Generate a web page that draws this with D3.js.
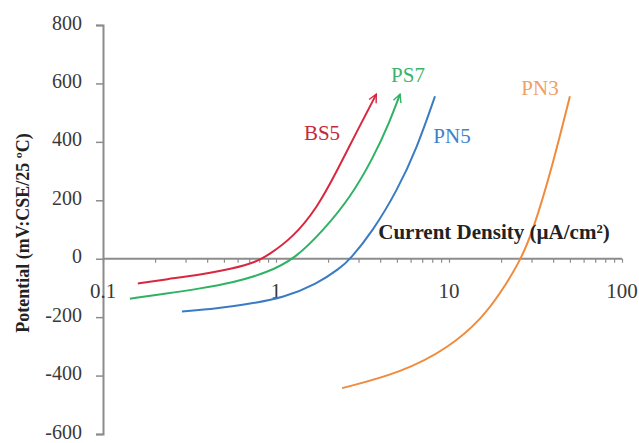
<!DOCTYPE html>
<html>
<head>
<meta charset="utf-8">
<script src="https://cdn.jsdelivr.net/npm/d3@7"></script>
<style>
  html, body { margin: 0; padding: 0; background: #fff; }
  svg { display: block; }
</style>
</head>
<body>
<svg id="chart" width="639" height="443"></svg>
<script>
// Polarization curves: current density (µA/cm², log) vs potential (mV)
const seriesNames = ["BS5", "PS7", "PN5", "PN3"];
const seriesColors = ["#d8283f", "#2fb264", "#3a7bc3", "#f08a3c"];
const labelColors = ["#c9283a", "#3bb46d", "#3c82c6", "#f1a066"];
const withArrow = [true, true, false, false];

const bs5 = [[0.159,-85],[0.234,-70],[0.364,-55],[0.564,-34],[0.776,-10],[0.9,12],[1.25,72],[1.73,174],[2.25,300],[2.94,437],[3.8,563]];
const ps7 = [[0.143,-137],[0.234,-119],[0.364,-102],[0.564,-82],[0.887,-48],[1.29,0],[1.87,96],[2.68,208],[3.64,344],[4.56,471],[5.21,563]];
const pn5 = [[0.286,-181],[0.456,-171],[0.708,-154],[1.1,-134],[1.73,-86],[2.34,-33],[2.68,-2],[3.64,96],[5.0,232],[6.53,379],[8.3,556]];
const pn3 = [[2.41,-443],[5.21,-392],[10.1,-304],[15.7,-200],[19.7,-120],[25.7,-10],[30.6,95],[39.9,324],[50,556]];
const seriesData = [bs5, ps7, pn5, pn3];

const xTickValues = [0.1, 1, 10, 100];
const xTickLabels = ["0.1", "1", "10", "100"];
const yTickValues = [-600, -400, -200, 0, 200, 400, 600, 800];

const xTitle = "Current Density (µA/cm²)";
const yTitle = "Potential (mV:CSE/25 ºC)";

const svg = d3.select("#chart");
const x = d3.scaleLog().domain([0.1, 100]).range([103, 622]);
const y = d3.scaleLinear().domain([-600, 800]).range([434, 25]);

const axisColor = "#8c8c8c";
const serif = "'Liberation Serif', 'Times New Roman', serif";

// arrowheads for the curves that carry one
const defs = svg.append("defs");
seriesNames.forEach((n, i) => {
  if (!withArrow[i]) return;
  defs.append("marker")
    .attr("id", "arrow-" + n)
    .attr("viewBox", "0 0 10 10")
    .attr("refX", 9).attr("refY", 5)
    .attr("markerWidth", 5).attr("markerHeight", 5)
    .attr("markerUnits", "strokeWidth")
    .attr("orient", "auto")
    .append("path")
    .attr("d", "M1,1 L9,5 L1,9")
    .attr("fill", "none")
    .attr("stroke", seriesColors[i])
    .attr("stroke-width", 1.4);
});

// y axis
const yAxis = d3.axisLeft(y).tickValues(yTickValues).tickSize(7).tickPadding(14)
  .tickFormat(d3.format("d"));
const gy = svg.append("g").attr("transform", `translate(${x(0.1)},0)`).call(yAxis);
gy.select(".domain").attr("stroke", axisColor).attr("stroke-width", 2);
gy.selectAll(".tick line").attr("stroke", axisColor).attr("stroke-width", 1.5);
gy.selectAll(".tick text").attr("font-family", serif).attr("font-size", 20).attr("fill", "#3a3a3a")
  .attr("dy", "0.2em")
  .text(d => d < 0 ? "-" + Math.abs(d) : d);

// x axis sits on the zero potential line
const minorTicks = [];
for (let dec = 0.1; dec < 100; dec *= 10) {
  for (let k = 1; k <= 9; k++) minorTicks.push(+(dec * k).toPrecision(3));
}
minorTicks.push(100);
const xAxis = d3.axisBottom(x).tickValues(minorTicks).tickSize(4).tickFormat("");
const gx = svg.append("g").attr("transform", `translate(0,${y(0)})`).call(xAxis);
gx.select(".domain").attr("stroke", axisColor).attr("stroke-width", 2).attr("d", `M${x(0.1)},0H${x(100)}`);
gx.selectAll(".tick line").attr("stroke", axisColor).attr("stroke-width", 1.2);

// decade labels below the axis
svg.append("g").selectAll("text").data(xTickValues).join("text")
  .attr("x", d => x(d)).attr("y", y(0) + 39)
  .attr("text-anchor", "middle")
  .attr("font-family", serif).attr("font-size", 21).attr("fill", "#3a3a3a")
  .text((d, i) => xTickLabels[i]);

// curves
const line = d3.line().x(d => x(d[0])).y(d => y(d[1])).curve(d3.curveBasis);
seriesData.forEach((data, i) => {
  const p = svg.append("path")
    .datum(data)
    .attr("d", line)
    .attr("fill", "none")
    .attr("stroke", seriesColors[i])
    .attr("stroke-width", 2);
  if (withArrow[i]) p.attr("marker-end", `url(#arrow-${seriesNames[i]})`);
});

// series labels
const labelPos = [[322, 140], [408, 82], [452, 143], [540, 95]];
svg.append("g").selectAll("text").data(seriesNames).join("text")
  .attr("x", (d, i) => labelPos[i][0]).attr("y", (d, i) => labelPos[i][1])
  .attr("text-anchor", "middle")
  .attr("font-family", serif).attr("font-size", 21)
  .attr("fill", (d, i) => labelColors[i])
  .text(d => d);

// axis titles
svg.append("text")
  .attr("x", 494).attr("y", 239)
  .attr("text-anchor", "middle")
  .attr("font-family", serif).attr("font-weight", "bold").attr("font-size", 21)
  .attr("fill", "#222")
  .text(xTitle);

svg.append("text")
  .attr("transform", "translate(29,233) rotate(-90)")
  .attr("text-anchor", "middle")
  .attr("font-family", serif).attr("font-weight", "bold").attr("font-size", 18)
  .attr("fill", "#222")
  .text(yTitle);
</script>
</body>
</html>
